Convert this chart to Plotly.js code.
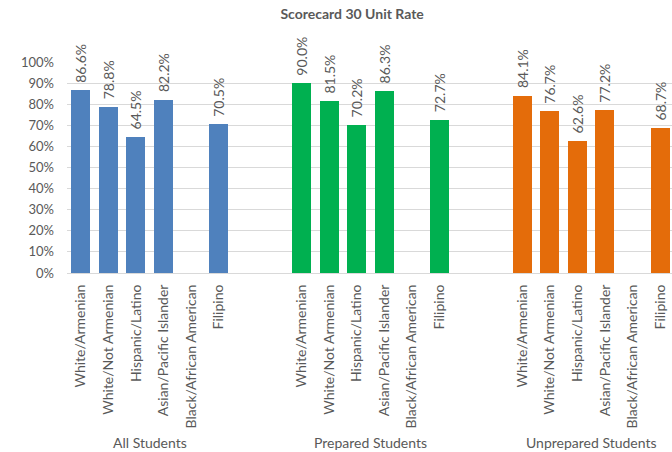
<!DOCTYPE html>
<html>
<head>
<meta charset="utf-8">
<script src="https://cdn.plot.ly/plotly-3.0.1.min.js"></script>
<style>html,body{margin:0;padding:0;background:#fff;}#chart{width:672px;height:452px;}</style>
</head>
<body>
<div id="chart"></div>
<script>
var categories = ["White/Armenian","White/Not Armenian","Hispanic/Latino","Asian/Pacific Islander","Black/African American","Filipino"];
var groups = ["All Students","Prepared Students","Unprepared Students"];
var allStudents = [0.866, 0.788, 0.645, 0.822, null, 0.705];
var preparedStudents = [0.900, 0.815, 0.702, 0.863, null, 0.727];
var unpreparedStudents = [0.841, 0.767, 0.626, 0.772, null, 0.687];
var seriesValues = [allStudents, preparedStudents, unpreparedStudents];
var colors = ["#4F81BD", "#00B050", "#E46C0A"];
var slotsPerGroup = 8;

var FONT = "Lato, 'Open Sans', sans-serif";
var GREY = "#595959";

var traces = [];
var tickvals = [], ticktext = [];
groups.forEach(function(g, gi) {
  var xs = categories.map(function(c, ci) { return gi * slotsPerGroup + ci; });
  xs.forEach(function(x, ci) { tickvals.push(x); ticktext.push(categories[ci]); });
  traces.push({
    type: "bar",
    name: g,
    x: xs,
    y: seriesValues[gi],
    width: 0.69,
    marker: {color: colors[gi]},
    texttemplate: "\u00a0\u200a%{y:.1%}",
    textposition: "outside",
    textangle: -90,
    constraintext: "none",
    cliponaxis: false,
    textfont: {family: FONT, size: 14, color: GREY},
    hoverinfo: "skip"
  });
});

var annotations = groups.map(function(g, gi) {
  return {
    text: g, xref: "x", yref: "paper",
    x: gi * slotsPerGroup + (categories.length - 1) / 2,
    y: -0.801, yanchor: "middle", xanchor: "center",
    showarrow: false,
    font: {family: FONT, size: 14, color: GREY}
  };
});

var layout = {
  width: 672, height: 452,
  margin: {l: 67, r: 0, t: 62, b: 179},
  paper_bgcolor: "#fff", plot_bgcolor: "#fff",
  showlegend: false,
  bargap: 0,
  title: {
    text: "<b>Scorecard 30 Unit Rate</b>",
    x: 0.524, xanchor: "center", y: 0.969, yanchor: "middle",
    font: {family: FONT, size: 14, color: GREY}
  },
  xaxis: {
    range: [-0.5, 21.43],
    tickmode: "array", tickvals: tickvals, ticktext: ticktext,
    tickangle: -90,
    showgrid: false, zeroline: false,
    showline: true, linecolor: "#D9D9D9", linewidth: 1,
    ticks: "", ticklabelstandoff: 5,
    tickfont: {family: FONT, size: 14, color: GREY}
  },
  yaxis: {
    range: [0, 1], dtick: 0.1, tickformat: ".0%",
    showgrid: true, gridcolor: "#D9D9D9", gridwidth: 1,
    zeroline: false, showline: false, ticks: "",
    ticklabelstandoff: 12,
    tickfont: {family: FONT, size: 13, color: GREY}
  },
  annotations: annotations
};

Plotly.newPlot("chart", traces, layout, {staticPlot: true, displayModeBar: false});
</script>
</body>
</html>
